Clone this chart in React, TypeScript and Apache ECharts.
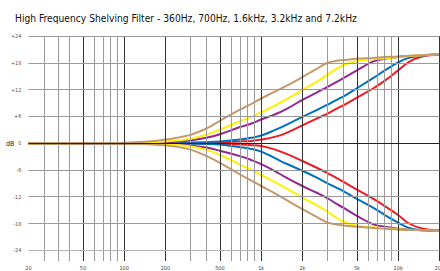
import React, { useEffect, useRef } from "react";
import * as echarts from "echarts";

const FREQ = [20, 100, 150, 200, 300, 400, 500, 700, 850, 1000, 1250, 1500, 2000, 2500, 3000, 3500, 4000, 5000, 6600, 8000, 10000, 12000, 15000, 20000];

const TAN_BOOST = [0, 0.1, 0.35, 0.8, 1.8, 3.3, 5.0, 7.5, 8.8, 10.0, 11.5, 12.7, 14.8, 16.5, 17.9, 18.4, 18.6, 18.9, 19.1, 19.3, 19.4, 19.6, 19.7, 19.9];
const TAN_CUT = [0, -0.1, -0.25, -0.5, -1.4, -2.9, -4.4, -7.0, -8.4, -9.6, -11.2, -12.6, -14.8, -16.4, -17.7, -18.2, -18.45, -18.75, -19.0, -19.2, -19.35, -19.45, -19.5, -19.6];
const YELLOW_BOOST = [0, 0.05, 0.15, 0.36, 0.95, 1.9, 3.0, 4.9, 5.9, 6.9, 8.4, 9.7, 11.9, 13.6, 15.2, 16.5, 17.5, 18.4, 18.8, 19.0, 19.3, 19.5, 19.7, 19.9];
const YELLOW_CUT = [0, -0.05, -0.1, -0.25, -0.7, -1.5, -2.6, -4.8, -6.0, -7.1, -8.7, -10.0, -12.2, -13.8, -15.2, -16.6, -17.6, -18.5, -18.85, -19.0, -19.3, -19.4, -19.5, -19.6];
const PURPLE_BOOST = [0, 0, 0.1, 0.2, 0.6, 1.2, 2.0, 3.6, 4.4, 5.3, 6.4, 7.5, 9.7, 11.2, 12.5, 13.6, 14.6, 16.3, 18.3, 18.9, 19.3, 19.5, 19.7, 19.9];
const PURPLE_CUT = [0, 0, -0.05, -0.15, -0.5, -1.0, -1.7, -2.9, -3.8, -4.7, -6.2, -7.6, -9.6, -11.0, -12.2, -13.5, -14.5, -16.3, -18.2, -18.75, -19.2, -19.4, -19.5, -19.6];
const BLUE_BOOST = [0, 0, 0, 0.05, 0.12, 0.22, 0.36, 0.8, 1.2, 1.7, 2.9, 4.0, 5.9, 7.3, 8.5, 9.6, 10.5, 12.3, 14.6, 16.3, 18.1, 19.1, 19.6, 19.9];
const BLUE_CUT = [0, 0, 0, -0.05, -0.12, -0.2, -0.3, -0.9, -1.3, -1.9, -3.3, -4.5, -6.2, -7.6, -8.9, -9.9, -10.8, -12.5, -14.5, -16.1, -17.8, -19.0, -19.5, -19.7];
const RED_BOOST = [0, 0, 0, 0, 0.05, 0.1, 0.15, 0.36, 0.5, 0.8, 1.4, 2.2, 4.0, 5.4, 6.5, 7.6, 8.5, 10.2, 12.3, 14.0, 16.3, 18.2, 19.4, 19.8];
const RED_CUT = [0, 0, 0, 0, -0.05, -0.1, -0.15, -0.3, -0.45, -0.65, -1.4, -2.3, -4.0, -5.4, -6.6, -7.7, -8.7, -10.4, -12.5, -14.1, -16.1, -18.0, -19.1, -19.5];

const X_TICK_FREQ = [20, 50, 100, 200, 500, 1000, 2000, 5000, 10000, 20000];
const X_TICK_LABELS = ["20", "50", "100", "200", "500", "1k", "2k", "5k", "10k", "20k"];
const Y_TICKS = [-24, -18, -12, -6, 0, 6, 12, 18, 24];
const MAJOR_GRID_FREQ = [20, 50, 100, 200, 500, 1000, 2000, 5000, 10000, 20000];
const MINOR_GRID_FREQ = [26.3, 33.4, 40, 60, 70, 80, 90, 300, 400, 600, 700, 800, 900, 3000, 4000, 6000, 7000, 8000, 9000];

const TITLE = "High Frequency Shelving Filter - 360Hz, 700Hz, 1.6kHz, 3.2kHz and 7.2kHz";

const CURVES = [
  { name: "7.2kHz", color: "#ed1c24", boost: RED_BOOST, cut: RED_CUT },
  { name: "3.2kHz", color: "#0072bc", boost: BLUE_BOOST, cut: BLUE_CUT },
  { name: "1.6kHz", color: "#92278f", boost: PURPLE_BOOST, cut: PURPLE_CUT },
  { name: "700Hz", color: "#fff200", boost: YELLOW_BOOST, cut: YELLOW_CUT },
  { name: "360Hz", color: "#c49a6c", boost: TAN_BOOST, cut: TAN_CUT },
];

const lx = (f: number) => Math.log10(f);
const FONT = "'Liberation Sans Narrow', 'DejaVu Sans Condensed', sans-serif";

export default function App() {
  const ref = useRef<HTMLDivElement>(null);

  useEffect(() => {
    if (!ref.current) return;
    const chart = echarts.init(ref.current, undefined, { renderer: "svg" });

    const gridLines: any[] = [];
    MINOR_GRID_FREQ.forEach((f) =>
      gridLines.push({ xAxis: lx(f), lineStyle: { color: "#9a9a9a", width: 1, type: "solid" } })
    );
    MAJOR_GRID_FREQ.forEach((f) =>
      gridLines.push({ xAxis: lx(f), lineStyle: { color: "#333333", width: 1, type: "solid" } })
    );
    Y_TICKS.forEach((v) =>
      gridLines.push({
        yAxis: v,
        lineStyle: { color: v === 0 ? "#222222" : v === -24 ? "#b5b5b5" : "#9a9a9a", width: 1, type: "solid" },
      })
    );

    const series: any[] = [
      {
        type: "line",
        data: [[lx(20), 0]],
        symbol: "none",
        silent: true,
        lineStyle: { opacity: 0 },
        z: 1,
        markLine: {
          symbol: ["none", "none"],
          silent: true,
          label: { show: false },
          emphasis: { disabled: true },
          data: gridLines,
        },
      },
    ];
    CURVES.forEach((c) => {
      [c.boost, c.cut].forEach((vals) => {
        series.push({
          type: "line",
          name: c.name,
          data: FREQ.map((f, i) => [lx(f), vals[i]]),
          smooth: 0.4,
          symbol: "none",
          silent: true,
          lineStyle: { color: c.color, width: 2 },
          z: 3,
        });
      });
    });

    chart.setOption({
      animation: false,
      backgroundColor: "#ffffff",
      grid: { left: 28.4, right: 0, top: 36, bottom: 9.5, containLabel: false },
      xAxis: {
        type: "value",
        min: lx(20),
        max: lx(20000),
        axisLine: { show: false },
        axisTick: { show: false },
        splitLine: { show: false },
        axisLabel: {
          customValues: X_TICK_FREQ.map(lx),
          formatter: (v: number) => {
            let best = 0;
            X_TICK_FREQ.forEach((f, i) => {
              if (Math.abs(lx(f) - v) < Math.abs(lx(X_TICK_FREQ[best]) - v)) best = i;
            });
            return X_TICK_LABELS[best];
          },
          fontSize: 5.5,
          color: "#444",
          margin: 4,
          fontFamily: FONT,
        },
      },
      yAxis: {
        type: "value",
        min: -26.4,
        max: 24,
        axisLine: { show: false },
        axisTick: { show: false },
        splitLine: { show: false },
        axisLabel: {
          customValues: Y_TICKS,
          formatter: (v: number) => (v > 0 ? "+" + v : String(v)),
          fontSize: 5.5,
          color: "#555",
          margin: 7,
          fontFamily: FONT,
        },
      },
      graphic: [
        {
          type: "text",
          left: 15,
          top: 13.5,
          style: { text: TITLE, font: `10.2px ${FONT}`, fill: "#111" },
        },
        {
          type: "text",
          x: 6,
          y: 143.5,
          style: { text: "dB", font: `7px ${FONT}`, fill: "#222", verticalAlign: "middle" },
        },
      ],
      series,
    });

    return () => chart.dispose();
  }, []);

  return (
    <div style={{ position: "fixed", left: 0, top: 0, width: 440, height: 271, overflow: "hidden", background: "#fff" }}>
      <div ref={ref} style={{ width: 447, height: 271 }} />
    </div>
  );
}
